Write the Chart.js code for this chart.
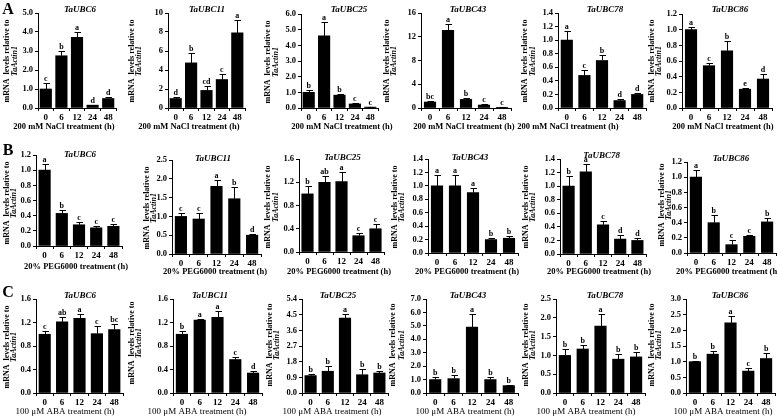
<!DOCTYPE html>
<html><head><meta charset="utf-8">
<script src="https://cdn.jsdelivr.net/npm/chart.js@4.4.1/dist/chart.umd.min.js"></script>
<style>
html,body{margin:0;padding:0;background:#fff;}
#wrap{position:relative;width:777px;height:417px;overflow:hidden;background:#fff;}
#wrap canvas{position:absolute;left:0;top:0;}
</style>
</head><body><div id="wrap"></div>
<script>
// ---------- DATA ----------
const timeLabels = ['0', '6', '12', '24', '48'];
const geneNames = ['TaUBC6', 'TaUBC11', 'TaUBC25', 'TaUBC43', 'TaUBC78', 'TaUBC86'];
const treatmentTitles = ['200 mM NaCl treatment (h)', '20% PEG6000 treatment (h)', '100 μM ABA treatment (h)'];
const rowLetters = ['A', 'B', 'C'];

// NaCl (row A)
const naclMeans = [
  [1.0, 2.75, 3.72, 0.15, 0.5],
  [1.0, 4.75, 1.85, 3.0, 7.9],
  [1.0, 4.6, 0.82, 0.26, 0.06],
  [1.0, 13.1, 1.45, 0.5, 0.12],
  [1.0, 0.48, 0.7, 0.11, 0.2],
  [1.0, 0.54, 0.73, 0.24, 0.37]
];
const naclErrors = [
  [0.3, 0.25, 0.3, 0.03, 0.08],
  [0.17, 1.0, 0.5, 0.62, 1.4],
  [0.12, 0.9, 0.1, 0.04, 0.02],
  [0.25, 1.0, 0.25, 0.1, 0.04],
  [0.14, 0.08, 0.08, 0.02, 0.02],
  [0.03, 0.03, 0.12, 0.01, 0.06]
];
const naclLetters = [
  ['c', 'b', 'a', 'd', 'd'],
  ['d', 'b', 'cd', 'c', 'a'],
  ['b', 'a', 'b', 'c', 'c'],
  ['bc', 'a', 'b', 'c', 'c'],
  ['a', 'c', 'b', 'd', 'd'],
  ['a', 'c', 'b', 'e', 'd']
];
const naclAxisMax = [5, 10, 6, 16, 1.4, 1.2];
const naclAxisStep = [1, 2, 1, 2, 0.2, 0.2];
const naclTickDecimals = [1, 0, 1, 0, 1, 1];

// PEG6000 (row B)
const pegMeans = [
  [1.0, 0.43, 0.28, 0.24, 0.26],
  [1.0, 0.93, 1.8, 1.47, 0.5],
  [1.0, 1.2, 1.21, 0.28, 0.4],
  [1.0, 1.0, 0.9, 0.2, 0.22],
  [1.0, 1.21, 0.43, 0.22, 0.2],
  [1.0, 0.4, 0.11, 0.22, 0.41]
];
const pegErrors = [
  [0.08, 0.05, 0.04, 0.025, 0.025],
  [0.09, 0.15, 0.18, 0.3, 0.04],
  [0.13, 0.11, 0.17, 0.04, 0.08],
  [0.16, 0.16, 0.07, 0.025, 0.03],
  [0.15, 0.11, 0.06, 0.06, 0.04],
  [0.1, 0.1, 0.055, 0.02, 0.045]
];
const pegLetters = [
  ['a', 'b', 'c', 'c', 'c'],
  ['c', 'c', 'a', 'b', 'd'],
  ['b', 'ab', 'a', 'c', 'c'],
  ['a', 'a', 'a', 'b', 'b'],
  ['b', 'a', 'c', 'd', 'd'],
  ['a', 'b', 'c', 'c', 'b']
];
const pegAxisMax = [1.2, 2.5, 1.6, 1.4, 1.4, 1.2];
const pegAxisStep = [0.2, 0.5, 0.2, 0.2, 0.2, 0.2];
const pegTickDecimals = [1, 1, 1, 1, 1, 1];

// ABA (row C)
const abaMeans = [
  [1.0, 1.21, 1.27, 1.01, 1.08],
  [1.0, 1.24, 1.29, 0.57, 0.34],
  [1.0, 1.25, 4.3, 1.05, 1.15],
  [1.0, 1.07, 4.9, 1.0, 0.55],
  [1.0, 1.17, 1.78, 0.9, 0.96],
  [1.0, 1.24, 2.24, 0.7, 1.1]
];
const abaErrors = [
  [0.05, 0.09, 0.08, 0.13, 0.1],
  [0.06, 0.02, 0.11, 0.05, 0.03],
  [0.12, 0.3, 0.22, 0.32, 0.14],
  [0.18, 0.3, 1.0, 0.17, 0.08],
  [0.16, 0.11, 0.33, 0.14, 0.13],
  [0.02, 0.1, 0.21, 0.1, 0.17]
];
const abaLetters = [
  ['c', 'ab', 'a', 'c', 'bc'],
  ['b', 'a', 'a', 'c', 'd'],
  ['b', 'b', 'a', 'b', 'b'],
  ['b', 'b', 'a', 'b', 'b'],
  ['b', 'b', 'a', 'b', 'b'],
  ['b', 'b', 'a', 'c', 'b']
];
const abaAxisMax = [1.6, 1.6, 5.4, 7, 2.5, 3];
const abaAxisStep = [0.2, 0.2, 0.9, 1, 0.5, 0.5];
const abaTickDecimals = [1, 1, 1, 1, 1, 1];

// ---------- LAYOUT (positions, not data) ----------
// plot area: [axisLeft, axisRight, topOfAxis, zeroLine]
const plotBoxes = [
  [[38, 116, 13, 108], [168, 245, 13, 108], [301, 378, 14, 108], [421, 511, 13, 108], [558, 646, 13, 108], [682, 772, 14, 108]],
  [[36, 122, 155, 246], [172, 261, 160, 254], [299, 384, 159, 252], [428, 518, 159, 253], [560, 646, 159, 254], [687, 776, 162, 253]],
  [[36, 123, 299, 393], [173, 262, 299, 393], [302, 388, 299, 393], [426, 518, 299, 393], [556, 645, 299, 393], [686, 775, 299, 393]]
];
// text anchors: [titleX, titleY, yTitleLine1X, yTitleLine2X, yTitleY, xTitleX, xTitleY]
const textAnchors = [
  [[80, 10, 7, 15, 61, 64, 127], [207, 10, 131.7, 139.3, 61, 189, 127], [349, 10, 268.3, 275.7, 62, 342, 127],
   [468, 10, 386.7, 394.3, 61, 464, 127], [605, 10, 525, 533.3, 61, 568, 127], [730, 10, 651.7, 659, 61, 723, 127]],
  [[80, 155, 6.7, 14, 203, 76, 267], [213, 159, 146.7, 154.3, 208, 215, 272], [342.5, 158, 268.3, 275.7, 207, 339, 272],
   [470, 158, 395, 401.7, 207, 467, 272], [601.7, 156, 525.7, 533.3, 207, 599, 272], [731, 159, 661.7, 669, 205, 728, 272]],
  [[80, 296, 6.7, 14, 347, 65, 412], [210, 296, 131.7, 139.3, 343, 197, 412], [338, 296, 270, 277.3, 345, 332, 412],
   [468, 296, 393.3, 401.7, 345, 465, 412], [605, 296, 525.7, 533.3, 345, 586, 412], [730, 296, 651.7, 659, 345, 723, 412]]
];
const rowLetterPos = [[8, 10], [8, 151], [8, 293]];

const rows = [
  {means: naclMeans, errs: naclErrors, sig: naclLetters, max: naclAxisMax, step: naclAxisStep, dec: naclTickDecimals, xBold: true},
  {means: pegMeans, errs: pegErrors, sig: pegLetters, max: pegAxisMax, step: pegAxisStep, dec: pegTickDecimals, xBold: true},
  {means: abaMeans, errs: abaErrors, sig: abaLetters, max: abaAxisMax, step: abaAxisStep, dec: abaTickDecimals, xBold: false}
];

const W = 777, H = 417, YW = 20, XH = 22;
const SERIF = '"Liberation Serif", "Times New Roman", serif';
const wrap = document.getElementById('wrap');

function makeAnnot(r, c) {
  const R = rows[r];
  const means = R.means[c], errs = R.errs[c], sig = R.sig[c];
  const t = textAnchors[r][c];
  return {
    id: 'annot' + r + c,
    afterDatasetsDraw(chart) {
      const ctx = chart.ctx;
      const ys = chart.scales.y;
      const meta = chart.getDatasetMeta(0);
      ctx.save();
      ctx.strokeStyle = '#000'; ctx.fillStyle = '#000'; ctx.lineWidth = 1;
      meta.data.forEach((bar, i) => {
        const x = Math.round(bar.x) + 0.5;
        const yE = Math.round(ys.getPixelForValue(means[i] + errs[i])) + 0.5;
        ctx.beginPath();
        ctx.moveTo(x, bar.y); ctx.lineTo(x, yE);
        ctx.moveTo(x - 3, yE); ctx.lineTo(x + 3.5, yE);
        ctx.stroke();
        ctx.font = 'bold 8px ' + SERIF;
        ctx.textAlign = 'center'; ctx.textBaseline = 'alphabetic';
        ctx.fillText(sig[i], bar.x, yE - 2.5);
      });
      // panel title
      ctx.font = 'italic bold 9px ' + SERIF;
      ctx.textAlign = 'center'; ctx.textBaseline = 'middle';
      ctx.fillText(geneNames[c], t[0], t[1]);
      // y title (rotated, two lines)
      ctx.save();
      ctx.translate(t[2], t[4]); ctx.rotate(-Math.PI / 2);
      ctx.font = 'bold 8px ' + SERIF;
      ctx.fillText('mRNA  levels relative to', 0, 0);
      ctx.restore();
      ctx.save();
      ctx.translate(t[3], t[4]); ctx.rotate(-Math.PI / 2);
      ctx.font = 'italic bold 8px ' + SERIF;
      ctx.fillText('TaActin1', 0, 0);
      ctx.restore();
      // x title
      ctx.font = (R.xBold ? 'bold 8.5px ' : '9px ') + SERIF;
      ctx.fillText(treatmentTitles[r], t[5], t[6]);
      // row letter
      if (c === 0) {
        ctx.font = 'bold 16px ' + SERIF;
        ctx.fillText(rowLetters[r], rowLetterPos[r][0], rowLetterPos[r][1]);
      }
      ctx.restore();
    }
  };
}

function makePanel(r, c) {
  const R = rows[r];
  const g = plotBoxes[r][c];
  const cv = document.createElement('canvas');
  cv.width = W; cv.height = H;
  cv.style.width = W + 'px'; cv.style.height = H + 'px';
  wrap.appendChild(cv);
  const dec = R.dec[c];
  new Chart(cv, {
    type: 'bar',
    data: {
      labels: timeLabels,
      datasets: [{data: R.means[c], backgroundColor: '#000', borderWidth: 0, barThickness: 11.5}]
    },
    options: {
      responsive: false, animation: false, events: [], devicePixelRatio: 1,
      layout: {padding: {left: g[0] - YW, right: W - g[1], top: g[2], bottom: H - g[3] - XH}},
      plugins: {legend: {display: false}, tooltip: {enabled: false}, title: {display: false}},
      scales: {
        x: {
          offset: true,
          grid: {display: true, drawOnChartArea: false, drawTicks: true, tickLength: 3, color: '#000', offset: true, lineWidth: 1},
          border: {display: true, color: '#000', width: 1},
          ticks: {color: '#000', font: {family: SERIF, size: 9, weight: 'bold'}, padding: 1, maxRotation: 0, autoSkip: false},
          afterFit(s) { s.height = XH; }
        },
        y: {
          min: 0, max: R.max[c],
          grid: {display: true, drawOnChartArea: false, drawTicks: true, tickLength: 3, color: '#000', lineWidth: 1},
          border: {display: true, color: '#000', width: 1},
          ticks: {
            stepSize: R.step[c], color: '#000', padding: 2,
            font: {family: SERIF, size: 8.5, weight: 'bold'},
            callback: (v) => Number(v).toFixed(dec)
          },
          afterFit(s) { s.width = YW; }
        }
      }
    },
    plugins: [makeAnnot(r, c)]
  });
}

for (let r = 0; r < 3; r++) for (let c = 0; c < 6; c++) makePanel(r, c);
</script>
</body></html>
